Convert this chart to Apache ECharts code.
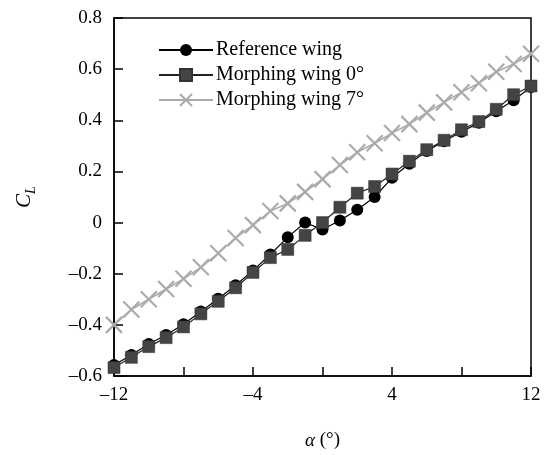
<!DOCTYPE html>
<html>
<head>
<meta charset="utf-8">
<title>Lift coefficient vs angle of attack</title>
<script src="https://cdn.jsdelivr.net/npm/echarts@6/dist/echarts.min.js"></script>
<style>
  html, body { margin: 0; padding: 0; background: #fff; }
  #chart { width: 547px; height: 455px; }
</style>
</head>
<body>
<div id="chart"></div>
<script>
// Angle of attack (deg)
const alpha = [-12, -11, -10, -9, -8, -7, -6, -5, -4, -3, -2, -1, 0, 1, 2, 3, 4, 5, 6, 7, 8, 9, 10, 11, 12];

// Lift coefficient C_L for each configuration
const referenceWing = [-0.557, -0.518, -0.475, -0.44, -0.398, -0.348, -0.298, -0.245, -0.187, -0.125, -0.057, 0.0, -0.027, 0.008, 0.05, 0.10, 0.175, 0.23, 0.28, 0.318, 0.355, 0.39, 0.435, 0.478, 0.53];
const morphingWing0 = [-0.567, -0.527, -0.485, -0.45, -0.408, -0.357, -0.308, -0.255, -0.195, -0.137, -0.105, -0.05, 0.0, 0.06, 0.115, 0.141, 0.19, 0.24, 0.285, 0.322, 0.363, 0.395, 0.443, 0.50, 0.534];
const morphingWing7 = [-0.40, -0.34, -0.30, -0.26, -0.22, -0.175, -0.12, -0.06, -0.01, 0.045, 0.075, 0.12, 0.17, 0.225, 0.275, 0.31, 0.35, 0.385, 0.43, 0.47, 0.51, 0.545, 0.59, 0.62, 0.66];

const seriesNames = ['Reference wing', 'Morphing wing 0°', 'Morphing wing 7°'];

// Tick values that carry a label on the x axis
const xLabelled = [-12, -4, 4, 12];

const FONT = 'Liberation Serif';
const CROSS = 'path://M0,0L10,10M10,0L0,10';

function pairs(ys) {
  return alpha.map((a, i) => [a, ys[i]]);
}
function dash(s) {
  return String(s).replace('-', '\u2013');
}

const chart = echarts.init(document.getElementById('chart'));

chart.setOption({
  animation: false,
  backgroundColor: '#fff',
  textStyle: { fontFamily: FONT, color: '#000' },
  grid: {
    left: 114, right: 16, top: 18, bottom: 68,
    show: true, borderColor: '#000', borderWidth: 1.5
  },
  legend: {
    orient: 'vertical',
    left: 158,
    top: 40,
    padding: 0,
    itemWidth: 54,
    itemHeight: 15,
    itemGap: 5,
    textStyle: { fontFamily: FONT, fontSize: 20, color: '#000', lineHeight: 18, padding: [0, 0, 0, -2] },
    data: seriesNames
  },
  xAxis: {
    type: 'value',
    min: -12, max: 12, interval: 4,
    name: '{a|α} (°)',
    nameLocation: 'middle',
    nameGap: 55,
    nameTextStyle: {
      fontFamily: FONT, fontSize: 19, color: '#000',
      rich: { a: { fontFamily: FONT, fontSize: 19, fontStyle: 'italic', color: '#000' } }
    },
    axisLine: { onZero: false, lineStyle: { color: '#000', width: 1.5 } },
    axisTick: { inside: true, length: 9, lineStyle: { color: '#000', width: 1.5 } },
    axisLabel: {
      margin: 10, fontFamily: FONT, fontSize: 19, color: '#000',
      formatter: v => xLabelled.includes(v) ? dash(v) : ''
    },
    splitLine: { show: false }
  },
  yAxis: {
    type: 'value',
    min: -0.6, max: 0.8, interval: 0.2,
    name: '{c|C}{l|L}',
    nameLocation: 'middle',
    nameGap: 76,
    nameTextStyle: {
      fontFamily: FONT, fontSize: 19, color: '#000',
      rich: {
        c: { fontFamily: FONT, fontSize: 21, fontStyle: 'italic', color: '#000', lineHeight: 28 },
        l: { fontFamily: FONT, fontSize: 14, fontStyle: 'italic', color: '#000', lineHeight: 14, verticalAlign: 'bottom' }
      }
    },
    axisLine: { onZero: false, lineStyle: { color: '#000', width: 1.5 } },
    axisTick: { inside: true, length: 9, lineStyle: { color: '#000', width: 1.5 } },
    axisLabel: {
      margin: 12, fontFamily: FONT, fontSize: 19, color: '#000',
      formatter: v => dash(Math.round(v * 10) / 10)
    },
    splitLine: { show: false }
  },
  series: [
    {
      name: seriesNames[2],
      type: 'line',
      data: pairs(morphingWing7),
      clip: false,
      symbol: CROSS,
      symbolSize: 16,
      lineStyle: { color: '#ababab', width: 1.6 },
      itemStyle: { color: '#ababab', borderColor: '#ababab', borderWidth: 2.2 },
      z: 2
    },
    {
      name: seriesNames[0],
      type: 'line',
      data: pairs(referenceWing),
      clip: false,
      symbol: 'circle',
      symbolSize: 12,
      lineStyle: { color: '#000', width: 1.2 },
      itemStyle: { color: '#000' },
      z: 3
    },
    {
      name: seriesNames[1],
      type: 'line',
      data: pairs(morphingWing0),
      clip: false,
      symbol: 'rect',
      symbolSize: 12,
      lineStyle: { color: '#222', width: 1.2 },
      itemStyle: { color: '#444', borderColor: '#333', borderWidth: 0.5 },
      z: 4
    }
  ]
});
</script>
</body>
</html>
